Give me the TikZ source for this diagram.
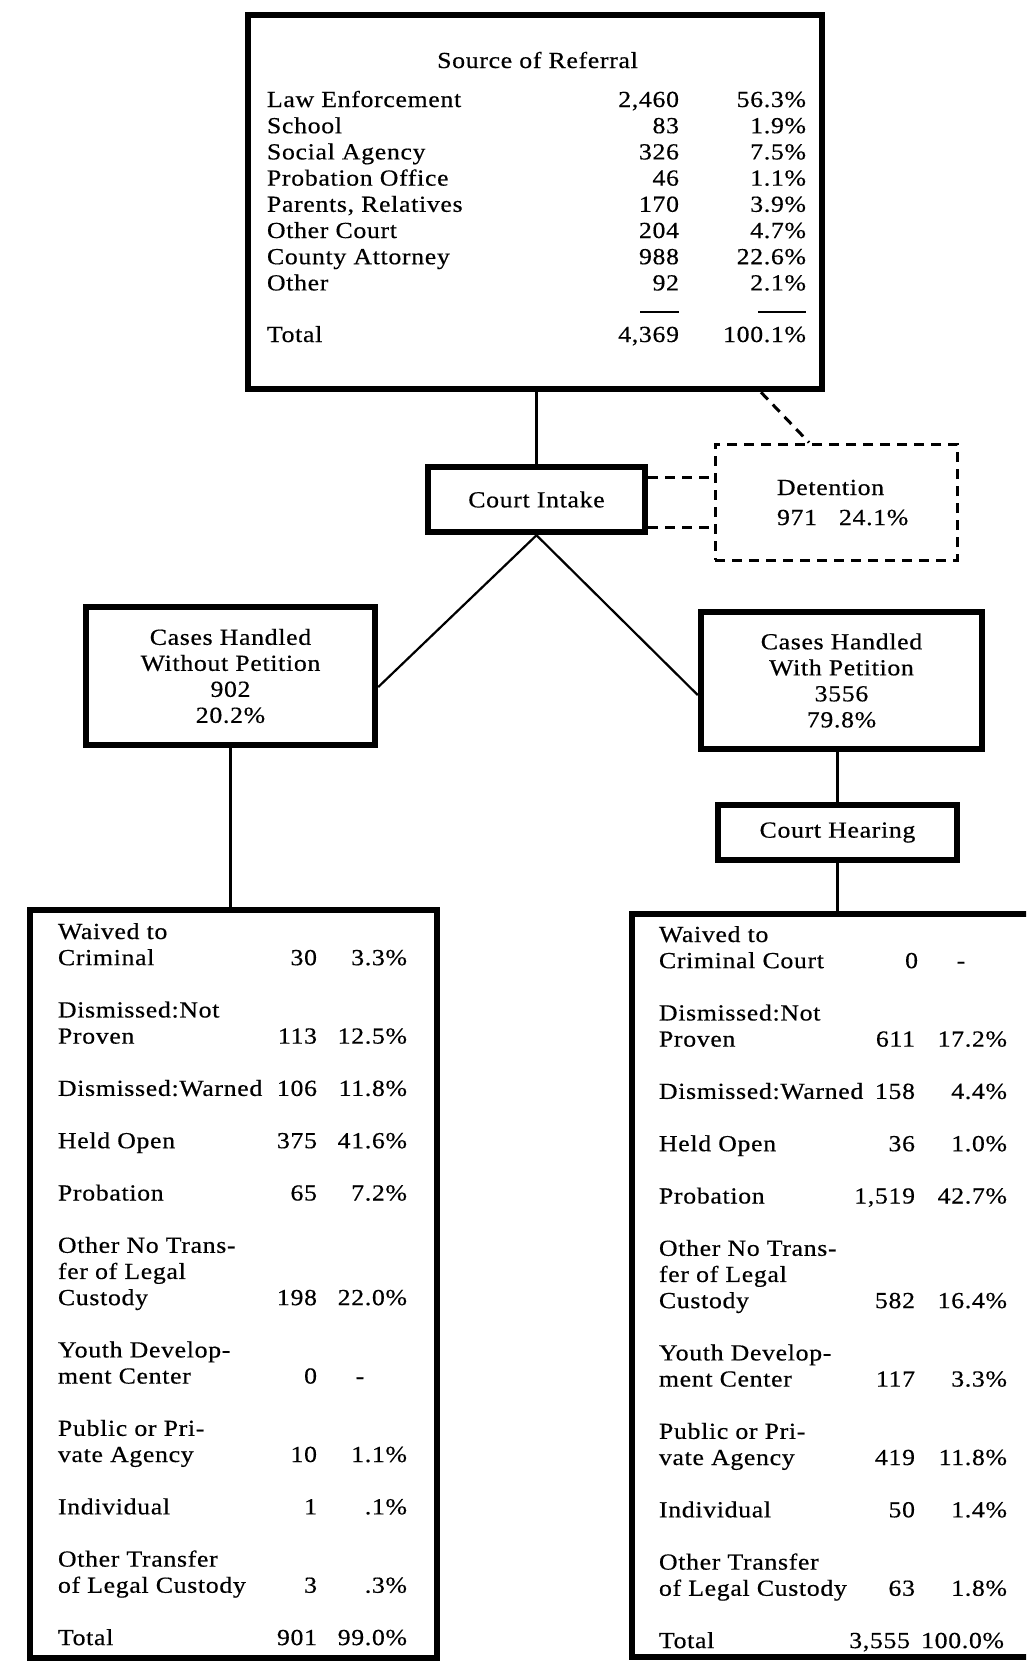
\documentclass[tikz,border=0pt]{standalone}
\usepackage{fontspec}
\setmainfont{Liberation Serif}[FakeStretch=1.12,LetterSpace=3,FakeBold=0.5]
\newcommand\srcrow[4]{%
  \node[txt,anchor=base west] (s#1a) at (267,{107+26.2*#1}) {#2};
  \node[txt,anchor=base east] (s#1b) at (679,{107+26.2*#1}) {#3};
  \node[txt,anchor=base east] (s#1c) at (806,{107+26.2*#1}) {#4};}
\newcommand\Lrow[4]{%
  \node[txt,anchor=base west] (L#1a) at (58,{939+26.15*#1}) {#2};
  \node[txt,anchor=base east] (L#1b) at (317,{939+26.15*#1}) {#3};
  \node[txt,anchor=base east] (L#1c) at (407,{939+26.15*#1}) {#4};}
\newcommand\Ltxt[2]{%
  \node[txt,anchor=base west] (L#1a) at (58,{939+26.15*#1}) {#2};}
\newcommand\Rrow[4]{%
  \node[txt,anchor=base west] (R#1a) at (659,{942+26.15*#1}) {#2};
  \node[txt,anchor=base east] (R#1b) at (915,{942+26.15*#1}) {#3};
  \node[txt,anchor=base east] (R#1c) at (1007,{942+26.15*#1}) {#4};}
\newcommand\Rtxt[2]{%
  \node[txt,anchor=base west] (R#1a) at (659,{942+26.15*#1}) {#2};}
\begin{document}
\begin{tikzpicture}[x=1pt,y=-1pt,
  txt/.style={font=\fontsize{23}{26}\selectfont, inner sep=0pt, outer sep=0pt},
  heavy/.style={draw, line width=6.5pt, inner sep=0pt, font=\fontsize{23}{26}\selectfont, align=center},
  dbox/.style={draw, line width=3pt, dash pattern=on 10pt off 7pt, inner sep=0pt},
  conn/.style={line width=2.2pt},
  dconn/.style={line width=3pt, dash pattern=on 10pt off 7pt},
  rulebar/.style={line width=1.8pt}]
\useasboundingbox (0,0) rectangle (1026,1666);
\fill[white] (0,0) rectangle (1026,1666);
\clip (0,0) rectangle (1026,1666);

% boxes
\node[heavy, minimum width=574pt, minimum height=374pt] (src) at (535,202) {};
\node[heavy, minimum width=217pt, minimum height=65pt] (intake) at (536.5,499.5) {Court Intake};
\node[dbox, minimum width=242pt, minimum height=116pt] (det) at (836,502) {};
\node[heavy, minimum width=289pt, minimum height=138pt] (wo) at (230.5,676) {Cases Handled\\Without Petition\\902\\20.2\%};
\node[heavy, minimum width=281pt, minimum height=137pt] (wp) at (841.5,680.5) {Cases Handled\\With Petition\\3556\\79.8\%};
\node[heavy, minimum width=239pt, minimum height=55pt] (hear) at (837.5,832.5) {Court Hearing};
\node[heavy, minimum width=407pt, minimum height=748pt] (lowL) at (233.5,1284) {};
\node[heavy, minimum width=428pt, minimum height=743pt] (lowR) at (846,1285.5) {};

% source of referral table
\node[txt,anchor=base] (srct) at (537.5,68) {Source of Referral};
\srcrow{0}{Law Enforcement}{2,460}{56.3\%}
\srcrow{1}{School}{83}{1.9\%}
\srcrow{2}{Social Agency}{326}{7.5\%}
\srcrow{3}{Probation Office}{46}{1.1\%}
\srcrow{4}{Parents, Relatives}{170}{3.9\%}
\srcrow{5}{Other Court}{204}{4.7\%}
\srcrow{6}{County Attorney}{988}{22.6\%}
\srcrow{7}{Other}{92}{2.1\%}
\draw[rulebar] (640,312) -- (679,312);
\draw[rulebar] (758,312) -- (806,312);
\node[txt,anchor=base west] (sta) at (267,342) {Total};
\node[txt,anchor=base east] (stb) at (679,342) {4,369};
\node[txt,anchor=base east] (stc) at (806,342) {100.1\%};

% detention text
\node[txt,anchor=base west] (dett) at (777,495) {Detention};
\node[txt,anchor=base west] (detn) at (777,525) {971};
\node[txt,anchor=base west] (detp) at (839,525) {24.1\%};

% lower left table
\Ltxt{0}{Waived to}
\Lrow{1}{Criminal}{30}{3.3\%}
\Ltxt{3}{Dismissed:Not}
\Lrow{4}{Proven}{113}{12.5\%}
\Lrow{6}{Dismissed:Warned}{106}{11.8\%}
\Lrow{8}{Held Open}{375}{41.6\%}
\Lrow{10}{Probation}{65}{7.2\%}
\Ltxt{12}{Other No Trans-}
\Ltxt{13}{fer of Legal}
\Lrow{14}{Custody}{198}{22.0\%}
\Ltxt{16}{Youth Develop-}
\Ltxt{17}{ment Center}
\node[txt,anchor=base east] (L17b) at (317,{939+26.15*17}) {0};
\node[txt,anchor=base] (L17c) at (360,{939+26.15*17}) {-};
\Ltxt{19}{Public or Pri-}
\Lrow{20}{vate Agency}{10}{1.1\%}
\Lrow{22}{Individual}{1}{.1\%}
\Ltxt{24}{Other Transfer}
\Lrow{25}{of Legal Custody}{3}{.3\%}
\Lrow{27}{Total}{901}{99.0\%}

% lower right table
\Rtxt{0}{Waived to}
\Rtxt{1}{Criminal Court}
\node[txt,anchor=base east] (R1b) at (918,{942+26.15*1}) {0};
\node[txt,anchor=base] (R1c) at (961,{942+26.15*1}) {-};
\Rtxt{3}{Dismissed:Not}
\Rrow{4}{Proven}{611}{17.2\%}
\Rrow{6}{Dismissed:Warned}{158}{4.4\%}
\Rrow{8}{Held Open}{36}{1.0\%}
\Rrow{10}{Probation}{1,519}{42.7\%}
\Rtxt{12}{Other No Trans-}
\Rtxt{13}{fer of Legal}
\Rrow{14}{Custody}{582}{16.4\%}
\Rtxt{16}{Youth Develop-}
\Rrow{17}{ment Center}{117}{3.3\%}
\Rtxt{19}{Public or Pri-}
\Rrow{20}{vate Agency}{419}{11.8\%}
\Rrow{22}{Individual}{50}{1.4\%}
\Rtxt{24}{Other Transfer}
\Rrow{25}{of Legal Custody}{63}{1.8\%}
\Rtxt{27}{Total}
\node[txt,anchor=base east] (R27b) at (910,{942+26.15*27}) {3,555};
\node[txt,anchor=base east] (R27c) at (1004,{942+26.15*27}) {100.0\%};

% connectors
\draw[conn] (intake.north) -- (intake.north |- src.south);
\coordinate (cL) at (0,687);
\coordinate (cR) at (0,695);
\draw[conn] (intake.south) -- (wo.east |- cL);
\draw[conn] (intake.south) -- (wp.west |- cR);
\draw[conn] (wo.south) -- (wo.south |- lowL.north);
\draw[conn] (hear.north |- wp.south) -- (hear.north);
\draw[conn] (hear.south) -- (hear.south |- lowR.north);
\coordinate (d1) at (0,477);
\coordinate (d2) at (0,527);
\draw[dconn] (intake.east |- d1) -- (det.west |- d1);
\draw[dconn] (intake.east |- d2) -- (det.west |- d2);
\coordinate (e1) at (761,0);
\coordinate (e2) at (809,0);
\draw[dconn] (src.south -| e1) -- (det.north -| e2);
\end{tikzpicture}
\end{document}
